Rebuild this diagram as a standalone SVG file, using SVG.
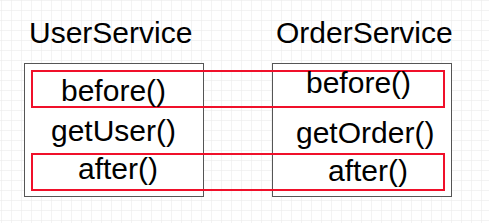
<svg xmlns="http://www.w3.org/2000/svg" width="489" height="223" viewBox="0 0 489 223">
<style>
.t{font-family:"Liberation Sans",Arial,sans-serif;font-size:30px;fill:#000}
.box{fill:#fff;stroke:#555;stroke-width:1}
.hl{fill:none;stroke:#f0102a;stroke-width:2}
</style>
<defs>
<pattern id="grid" x="1" y="0" width="10" height="10" patternUnits="userSpaceOnUse">
<path d="M0 0H10M0 0V10" fill="none" stroke="#e8e8e8" stroke-width="1"/>
</pattern>
</defs>
<rect width="489" height="223" fill="#fff"/>
<rect width="489" height="223" fill="url(#grid)"/>
<g id="UserService">
<text class="t" x="29" y="43">UserService</text>
<rect class="box" x="24.5" y="63.5" width="179" height="133"/>
<text class="t" x="51" y="141">getUser()</text>
</g>
<g id="OrderService">
<text class="t" x="276" y="43">OrderService</text>
<rect class="box" x="272.5" y="63.5" width="179" height="133"/>
<text class="t" x="296" y="143">getOrder()</text>
</g>
<g id="before">
<rect class="hl" x="32" y="71" width="412" height="36"/>
<text class="t" x="61" y="101">before()</text>
<text class="t" x="306" y="93">before()</text>
</g>
<g id="after">
<rect class="hl" x="32" y="154" width="412" height="36"/>
<text class="t" x="78" y="179">after()</text>
<text class="t" x="328" y="181">after()</text>
</g>
<g id="connectors"></g>
</svg>
